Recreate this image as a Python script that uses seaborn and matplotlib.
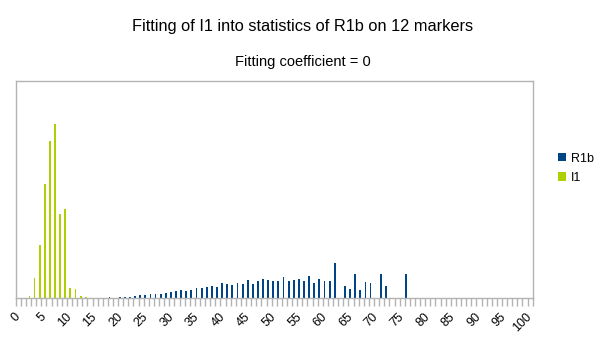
import numpy as np
import pandas as pd
import matplotlib
matplotlib.use("Agg")
import matplotlib.pyplot as plt
from matplotlib.ticker import FixedLocator
import seaborn as sns

# Number of differing markers, 0..100
categories = list(range(101))

# Share (%) of haplotypes at each distance
r1b = [
    0, 0, 0, 0, 0, 0, 0, 0, 0, 0,
    0, 0, 0, 0, 0, 0.05, 0.05, 0.05, 0.14, 0.09,
    0.14, 0.18, 0.23, 0.32, 0.41, 0.41, 0.55, 0.55, 0.55, 0.74,
    0.83, 1.01, 1.10, 1.06, 1.20, 1.43, 1.38, 1.52, 1.70, 1.61,
    2.07, 1.93, 1.79, 2.16, 2.02, 2.58, 1.98, 2.39, 2.62, 2.53,
    2.35, 2.44, 2.90, 2.39, 2.53, 2.62, 2.39, 3.08, 2.07, 2.67,
    2.35, 2.35, 4.83, 0, 1.66, 1.29, 3.31, 1.15, 2.25, 2.07,
    0, 3.31, 1.75, 0, 0, 0, 3.36, 0, 0, 0,
    0, 0, 0, 0, 0, 0, 0, 0, 0, 0,
    0, 0, 0, 0, 0, 0, 0, 0, 0, 0,
    0,
]
i1 = [
    0, 0, 0.32, 2.81, 7.36, 15.78, 21.71, 24.10, 11.59, 12.28,
    1.43, 1.29, 0.32, 0.18, 0.05, 0.05, 0, 0, 0, 0,
] + [0] * 81

series_names = ["R1b", "I1"]
colors = ["#004586", "#aecf00"]
tick_labels = [str(v) for v in range(0, 101, 5)]

df = pd.DataFrame({
    "marker": categories * 2,
    "share": r1b + i1,
    "series": [series_names[0]] * len(categories) + [series_names[1]] * len(categories),
})

fig = plt.figure(figsize=(6.05, 3.40), dpi=100)
ax = fig.add_axes([0.026, 0.1226, 0.8545, 0.6392])

sns.barplot(
    data=df, x="marker", y="share", hue="series",
    order=categories, hue_order=series_names, palette=colors,
    saturation=1, width=0.72, errorbar=None, linewidth=0, ax=ax,
)

frame = "#b3b3b3"
ax.set_xlim(-0.5, len(categories) - 0.5)
ax.set_ylim(0, 30)
ax.set_yticks([])
ax.set_xlabel("")
ax.set_ylabel("")
for s in ax.spines.values():
    s.set_color(frame)
    s.set_linewidth(1.0)

ax.set_xticks(range(0, 101, 5))
ax.set_xticklabels(tick_labels, rotation=45, ha="right", va="center",
                   rotation_mode="anchor", fontsize=9, family="Liberation Sans")
ax.tick_params(axis="x", which="major", length=0, pad=12)
ax.xaxis.set_minor_locator(FixedLocator(np.arange(-0.5, 101, 1)))
ax.tick_params(axis="x", which="minor", length=5.5, width=1.0, color=frame, direction="out")

leg = ax.legend(
    loc="center left", bbox_to_anchor=(0.912, 0.505), bbox_transform=fig.transFigure,
    frameon=False, handlelength=0.65, handleheight=0.65,
    handletextpad=0.35, labelspacing=0.6, borderpad=0,
    prop={"family": "Liberation Sans", "size": 9},
)

fig.text(0.5, 0.9235, "Fitting of I1 into statistics of R1b on 12 markers",
         ha="center", va="center", fontsize=11.8, family="Liberation Sans")
fig.text(0.5, 0.819, "Fitting coefficient = 0",
         ha="center", va="center", fontsize=10.5, family="Liberation Sans")

fig.savefig("out.png", dpi=100, facecolor="white")
